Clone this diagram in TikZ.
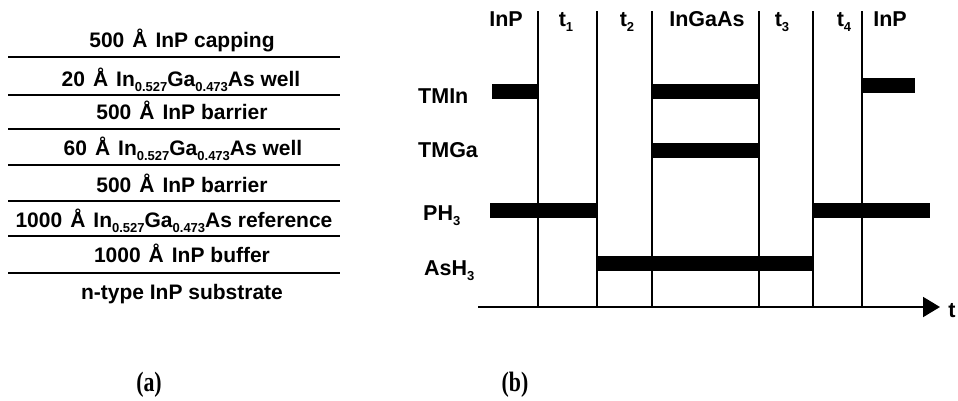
\documentclass[tikz,border=0pt]{standalone}
\usepackage{fontspec}
\setmainfont{Liberation Sans}
\newfontfamily\panelfont{Liberation Serif}
\usetikzlibrary{arrows.meta}
% lowered small figures for composition indices and subscripts
\newcommand\lsub[1]{\raisebox{-5pt}{\fontsize{13}{13}\selectfont #1}}
\newcommand\ingaas{In\lsub{0.527}Ga\lsub{0.473}As}
% angstrom sign with a little extra room on both sides
\newcommand\ang{\hspace{8pt}Å\hspace{8pt}}
\begin{document}
\begin{tikzpicture}[x=1pt,y=-1pt,
  lbl/.style={font=\fontsize{21.5}{25}\selectfont\bfseries, inner sep=0pt},
  layer/.style={font=\fontsize{21}{25}\selectfont\bfseries, inner sep=0pt, anchor=base},
  gas/.style={lbl, anchor=base west},
  phase/.style={lbl, anchor=base},
  sep/.style={line width=1.8pt},
  pulse/.style={fill=black},
  panel/.style={font=\panelfont\fontsize{28}{32}\selectfont\bfseries, inner sep=0pt}]
\useasboundingbox (0,0) rectangle (958,400);

% ---- (a) layer stack ----
\foreach \y in {57,95,129,165,201,236,273}
  \draw[sep] (8,\y) -- (340,\y);
\node[layer] (cap)  at (182,47)  {500\ang{}InP capping};
\node[layer] (qw1)  at (181,86)  {20\ang\ingaas{} well};
\node[layer] (b1)   at (182,119) {500\ang{}InP barrier};
\node[layer] (qw2)  at (183,155) {60\ang\ingaas{} well};
\node[layer] (b2)   at (182,192) {500\ang{}InP barrier};
\node[layer] (ref)  at (174,227) {1000\ang\ingaas{} reference};
\node[layer] (buf)  at (182,262) {1000\ang{}InP buffer};
\node[layer] (sub)  at (182,299) {n-type InP substrate};

% ---- (b) switching sequence ----
\foreach \x in {538,597,652,759,813,862}
  \draw[sep] (\x,11) -- (\x,307);

\node[phase] (p0) at (506,26) {InP};
\node[phase] (p1) at (566,26) {t\lsub{1}};
\node[phase] (p2) at (627,26) {t\lsub{2}};
\node[phase] (p3) at (707,26) {InGaAs};
\node[phase] (p4) at (782,26) {t\lsub{3}};
\node[phase] (p5) at (844,26) {t\lsub{4}};
\node[phase] (p6) at (890,26) {InP};

\node[gas] (tmin) at (418,103) {TMIn};
\node[gas] (tmga) at (418,157) {TMGa};
\node[gas] (ph)   at (423,220) {PH\lsub{3}};
\node[gas] (ash)  at (424,275) {AsH\lsub{3}};

% source pulses
\fill[pulse] (492,83.5) rectangle (538,98.5);
\fill[pulse] (652,83.5) rectangle (759,98.5);
\fill[pulse] (862,77.5) rectangle (915,92.5);
\fill[pulse] (652,142.5) rectangle (759,157.5);
\fill[pulse] (490,202.5) rectangle (597,217.5);
\fill[pulse] (813,203) rectangle (930,218);
\fill[pulse] (598,255.5) rectangle (813,270.5);

% time axis
\coordinate (t0) at (478,307);
\coordinate (t1) at (940,307);
\draw[line width=2pt, -{Triangle[length=17pt,width=20pt]}] (t0) -- (t1);
\node[lbl, anchor=base] (tl) at (952,317) {t};

\node[panel] (pa) at (149,385) {\scalebox{0.78}[1]{(a)}};
\node[panel] (pb) at (515,385) {\scalebox{0.78}[1]{(b)}};
\end{tikzpicture}
\end{document}
